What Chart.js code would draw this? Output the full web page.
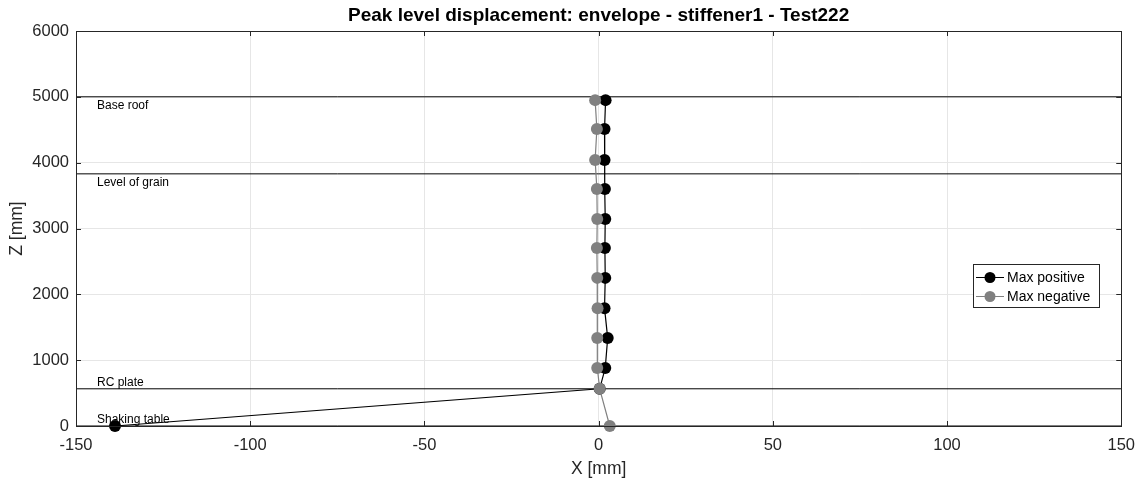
<!DOCTYPE html>
<html>
<head>
<meta charset="utf-8">
<script src="https://cdn.jsdelivr.net/npm/chart.js@4"></script>
<style>
  body { margin: 0; background: #fff; }
  canvas { display: block; }
</style>
</head>
<body>
<canvas id="chart" width="1145" height="483"></canvas>
<script>
// Level heights (mm) and the peak displacements
const zLevels = [4950, 4510, 4040, 3600, 3145, 2705, 2250, 1790, 1335, 880, 565, 0];
const maxPositive = [2.0, 1.7, 1.7, 1.8, 1.9, 1.8, 1.9, 1.7, 2.6, 1.9, 0.3, -138.8];
const maxNegative = [-1.0, -0.5, -1.0, -0.5, -0.4, -0.5, -0.4, -0.3, -0.4, -0.4, 0.3, 3.2];

// Horizontal reference levels
const levelNames = ['Base roof', 'Level of grain', 'RC plate', 'Shaking table'];
const levelZ = [5000, 3830, 565, 0];

const xTicks = [-150, -100, -50, 0, 50, 100, 150];
const yTicks = [0, 1000, 2000, 3000, 4000, 5000, 6000];

const FONT = 'Arial, "Liberation Sans", Helvetica, sans-serif';
const gridColor = '#e6e6e6';

const levelDatasets = levelZ.map((z, i) => ({
    label: levelNames[i],
    data: [{ x: xTicks[0], y: z }, { x: xTicks[xTicks.length - 1], y: z }],
    showLine: true,
    borderColor: '#000',
    borderWidth: 1,
    pointRadius: 0,
    order: 10
}));

// Draws the MATLAB-style box, inward ticks, level labels, title and legend
const decorations = {
    id: 'decorations',
    afterDatasetsDraw(chart) {
        const { ctx, chartArea: a, scales: { x, y } } = chart;
        ctx.save();
        ctx.strokeStyle = '#262626';
        ctx.lineWidth = 1;
        ctx.strokeRect(Math.round(a.left) + 0.5, Math.round(a.top) + 0.5,
            Math.round(a.right - a.left), Math.round(a.bottom - a.top));
        ctx.beginPath();
        xTicks.forEach(v => {
            const px = Math.round(x.getPixelForValue(v)) + 0.5;
            ctx.moveTo(px, a.bottom); ctx.lineTo(px, a.bottom - 5);
            ctx.moveTo(px, a.top); ctx.lineTo(px, a.top + 5);
        });
        yTicks.forEach(v => {
            const py = Math.round(y.getPixelForValue(v)) + 0.5;
            ctx.moveTo(a.left, py); ctx.lineTo(a.left + 5, py);
            ctx.moveTo(a.right, py); ctx.lineTo(a.right - 5, py);
        });
        ctx.stroke();

        // level labels
        ctx.fillStyle = '#000';
        ctx.font = '12px ' + FONT;
        ctx.textAlign = 'left';
        ctx.textBaseline = 'middle';
        levelNames.forEach((name, i) => {
            const py = y.getPixelForValue(levelZ[i]);
            const above = levelZ[i] < 1000;
            ctx.fillText(name, a.left + 21, above ? py - 6 : py + 9);
        });

        // title
        ctx.font = 'bold 19px ' + FONT;
        ctx.textAlign = 'center';
        ctx.textBaseline = 'alphabetic';
        ctx.fillText('Peak level displacement: envelope - stiffener1 - Test222', (a.left + a.right) / 2, 21);

        // legend
        const lx = 973, ly = 264, lw = 126, lh = 43;
        ctx.fillStyle = '#fff';
        ctx.fillRect(lx, ly, lw, lh);
        ctx.strokeStyle = '#262626';
        ctx.strokeRect(lx + 0.5, ly + 0.5, lw, lh);
        const rows = [['Max positive', '#000'], ['Max negative', '#808080']];
        rows.forEach((r, i) => {
            const ry = ly + 13.5 + i * 19;
            ctx.strokeStyle = r[1];
            ctx.beginPath();
            ctx.moveTo(lx + 3, ry); ctx.lineTo(lx + 31, ry);
            ctx.stroke();
            ctx.fillStyle = r[1];
            ctx.beginPath();
            ctx.arc(lx + 17, ry, 5.5, 0, Math.PI * 2);
            ctx.fill();
            ctx.fillStyle = '#000';
            ctx.font = '14px ' + FONT;
            ctx.textAlign = 'left';
            ctx.textBaseline = 'middle';
            ctx.fillText(r[0], lx + 34, ry + 1);
        });
        ctx.restore();
    }
};

new Chart(document.getElementById('chart').getContext('2d'), {
    type: 'scatter',
    data: {
        datasets: [
            {
                label: 'Max negative',
                data: maxNegative.map((v, i) => ({ x: v, y: zLevels[i] })),
                showLine: true,
                borderColor: '#808080',
                backgroundColor: '#808080',
                borderWidth: 1.2,
                pointRadius: 6,
                pointBorderWidth: 0,
                clip: false,
                order: 1
            },
            {
                label: 'Max positive',
                data: maxPositive.map((v, i) => ({ x: v, y: zLevels[i] })),
                showLine: true,
                borderColor: '#000',
                backgroundColor: '#000',
                borderWidth: 1.2,
                pointRadius: 6,
                pointBorderWidth: 0,
                clip: false,
                order: 2
            },
            ...levelDatasets
        ]
    },
    options: {
        responsive: false,
        animation: false,
        devicePixelRatio: 1,
        layout: { padding: { top: 31, right: 23, left: 0, bottom: 0 } },
        plugins: {
            legend: { display: false },
            title: { display: false },
            tooltip: { enabled: false }
        },
        scales: {
            x: {
                type: 'linear',
                min: -150, max: 150,
                afterBuildTicks: s => { s.ticks = xTicks.map(v => ({ value: v })); },
                afterFit: s => { s.height = 57; },
                grid: { color: gridColor, drawTicks: false },
                border: { color: '#262626' },
                ticks: { color: '#262626', font: { family: FONT, size: 16.5 }, padding: 10, callback: v => String(v) },
                title: { display: true, text: 'X [mm]', color: '#262626', font: { family: FONT, size: 17.5 }, padding: { top: 0, bottom: 3 } }
            },
            y: {
                type: 'linear',
                min: 0, max: 6000,
                afterBuildTicks: s => { s.ticks = yTicks.map(v => ({ value: v })); },
                afterFit: s => { s.width = 76; },
                grid: { color: gridColor, drawTicks: false },
                border: { color: '#262626' },
                ticks: { color: '#262626', font: { family: FONT, size: 16.5 }, padding: 7, callback: v => String(v) },
                title: { display: true, text: 'Z [mm]', color: '#262626', font: { family: FONT, size: 17.5 }, padding: { top: 7, bottom: 0 } }
            }
        }
    },
    plugins: [decorations]
});
</script>
</body>
</html>
